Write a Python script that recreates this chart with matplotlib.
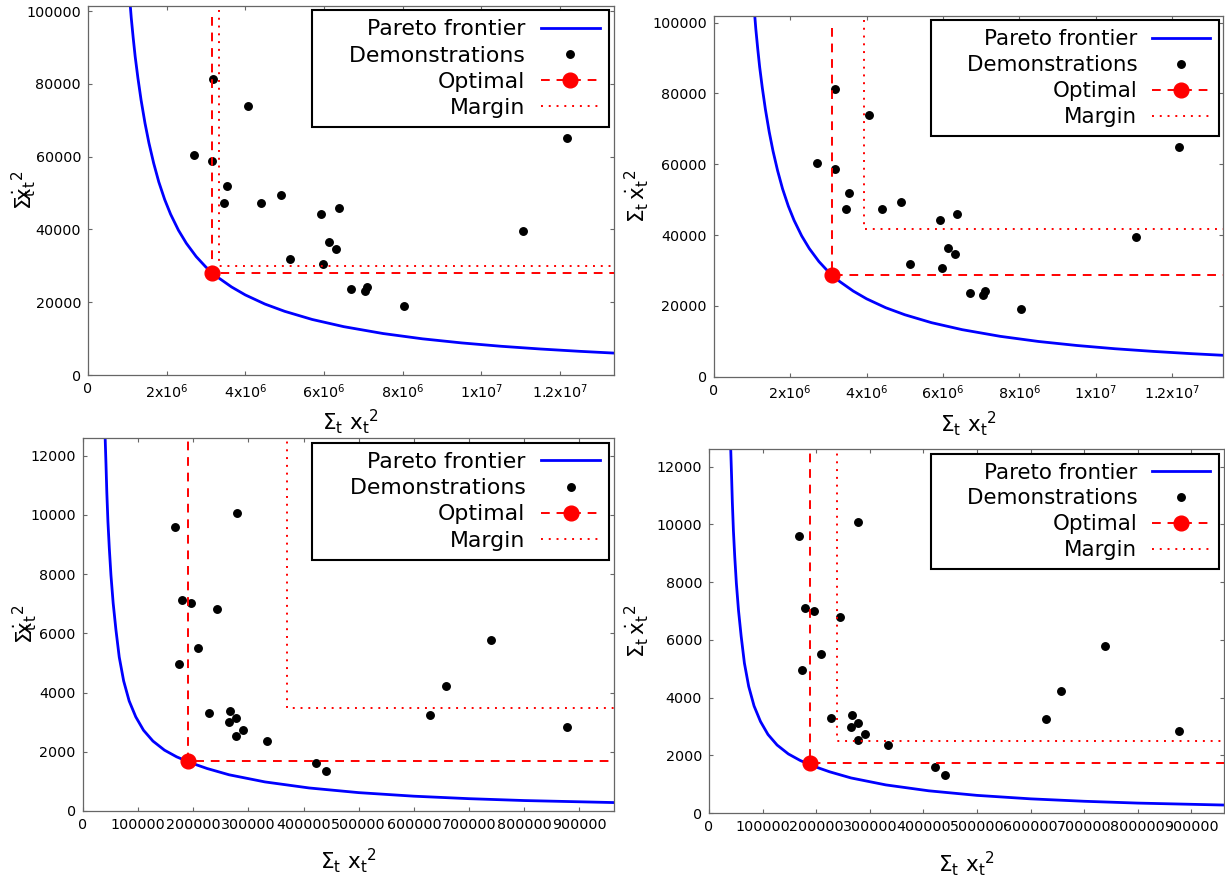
import matplotlib
matplotlib.use('Agg')
import matplotlib.pyplot as plt
from matplotlib.lines import Line2D

plt.rcParams['font.family'] = ['DejaVu Sans']
plt.rcParams['mathtext.fontset'] = 'dejavusans'
plt.rcParams['mathtext.default'] = 'regular'

# demonstrations, top row (sum x^2, sum xdot^2)
demo_top_x = [3.185e6, 4.066e6, 2.694e6, 3.160e6, 3.541e6, 3.448e6, 4.396e6, 4.905e6,
              5.921e6, 6.370e6, 6.133e6, 6.311e6, 5.142e6, 5.972e6, 6.697e6, 7.040e6,
              7.088e6, 8.033e6, 11.058e6, 12.173e6]
demo_top_y = [81320, 74000, 60350, 58790, 51830, 47350, 47260, 49360,
              44140, 45970, 36450, 34530, 31780, 30590, 23630, 23170,
              24270, 19050, 39470, 65020]

# demonstrations, bottom row
demo_bot_x = [278700, 167800, 179900, 195700, 243600, 208400, 173900, 227800,
              266600, 264200, 277500, 290800, 277500, 333900, 421800, 439900,
              739000, 657300, 628700, 876500]
demo_bot_y = [10068, 9595, 7109, 7008, 6806, 5512, 4950, 3307,
              3386, 3003, 3138, 2745, 2520, 2362, 1609, 1339,
              5785, 4232, 3253, 2836]

# pareto frontier, points
front_top_x = [1.07e6, 1.10e6, 1.15e6, 1.20e6, 1.27e6, 1.35e6, 1.45e6, 1.55e6, 1.67e6,
               1.80e6, 1.95e6, 2.10e6, 2.30e6, 2.50e6, 2.75e6, 3.00e6, 3.30e6, 3.65e6,
               4.00e6, 4.50e6, 5.00e6, 5.70e6, 6.50e6, 7.50e6, 8.50e6, 9.50e6, 10.5e6,
               11.5e6, 12.5e6, 13.4e6]
front_top_y = [102240, 98180, 92610, 87500, 81570, 75560, 69170, 63740, 58200,
               53060, 48210, 44190, 39780, 36200, 32550, 29630, 26850, 24190,
               22000, 19490, 17500, 15260, 13290, 11400, 9950, 8820, 7900,
               7150, 6510, 6010]
front_bot_x = [40500, 42000, 43500, 45500, 48000, 51000, 55000, 60000, 66000,
               74000, 84000, 96000, 110000, 127000, 148000, 170000, 195000, 225000,
               265000, 330000, 410000, 500000, 600000, 700000, 800000, 962000]
front_bot_y = [12590, 11710, 10760, 9780, 8875, 7960, 7020, 6120, 5197,
               4392, 3715, 3177, 2727, 2362, 2054, 1829, 1631, 1436,
               1223, 982, 778, 620, 500, 416, 353, 285]

# optimal point and margin corner per panel
opt_x = [3.143e6, 3.09e6, 190300, 187700]
opt_y = [28115, 28810, 1676, 1735]
opt_top = [98450, 98400, 13000, 13000]
margin_x = [3.33e6, 3.944e6, 369600, 239200]
margin_y = [29855, 41710, 3476, 2496]
margin_top = [100280, 100750, 13000, 13000]

top_xticks = [0, 2e6, 4e6, 6e6, 8e6, 1e7, 1.2e7]
top_xticklabels = ['0', '2x10$^6$', '4x10$^6$', '6x10$^6$', '8x10$^6$', '1x10$^7$', '1.2x10$^7$']
top_yticks = [0, 20000, 40000, 60000, 80000, 100000]
bot_xticks = [0, 100000, 200000, 300000, 400000, 500000, 600000, 700000, 800000, 900000]
bot_xticklabels = [str(v) for v in bot_xticks]
bot_yticks = [0, 2000, 4000, 6000, 8000, 10000, 12000]

labels = ['Pareto frontier', '    Demonstrations', 'Optimal', 'Margin']
xlab = r'$\Sigma_\mathrm{t}\ \mathrm{x}_\mathrm{t}{}^2$'
ylab_tight = r'$\Sigma_\mathrm{t}\!\!\!\dot{\mathrm{x}}_\mathrm{t}{}^2$'
ylab_loose = r'$\Sigma_\mathrm{t}\,\dot{\mathrm{x}}_\mathrm{t}{}^2$'

panels = [
    dict(rect=[0.0718, 0.5748, 0.4291, 0.4189], xlim=1.336e7, ylim=101500, row='top',
         ylab=ylab_tight, ylc=(-0.122, 0.50), xlc=(0.5, -0.127), fs=15.8),
    dict(rect=[0.5827, 0.5729, 0.4160, 0.4090], xlim=1.334e7, ylim=101900, row='top',
         ylab=ylab_loose, ylc=(-0.1515, 0.50), xlc=(0.5, -0.129), fs=15.4),
    dict(rect=[0.0676, 0.0805, 0.4336, 0.4226], xlim=962500, ylim=12585, row='bot',
         ylab=ylab_tight, ylc=(-0.109, 0.50), xlc=(0.5, -0.133), fs=15.8),
    dict(rect=[0.5788, 0.0779, 0.4200, 0.4130], xlim=960000, ylim=12606, row='bot',
         ylab=ylab_loose, ylc=(-0.1417, 0.50), xlc=(0.5, -0.137), fs=15.4),
]

blue = '#0000ff'
red = '#ff0000'
dash = (0, (4.5, 3.5))
dots = (0, (1, 3))

fig = plt.figure(figsize=(12.25, 8.82), dpi=100)

for i, p in enumerate(panels):
    ax = fig.add_axes(p['rect'])
    if p['row'] == 'top':
        fx, fy, dx, dy = front_top_x, front_top_y, demo_top_x, demo_top_y
    else:
        fx, fy, dx, dy = front_bot_x, front_bot_y, demo_bot_x, demo_bot_y
    far = p['xlim'] * 1.2

    ax.plot(fx, fy, color=blue, lw=2.0, zorder=2, solid_joinstyle='round')
    ax.plot(dx, dy, 'o', color='black', ms=5.4, ls='none', zorder=3)
    ax.plot([opt_x[i], opt_x[i], far], [opt_top[i], opt_y[i], opt_y[i]],
            color=red, lw=1.4, ls=dash, zorder=4)
    ax.plot([opt_x[i]], [opt_y[i]], 'o', color=red, ms=10.6, zorder=5)
    ax.plot([margin_x[i], margin_x[i], far], [margin_top[i], margin_y[i], margin_y[i]],
            color=red, lw=1.4, ls=dots, zorder=4)

    ax.set_xlim(0, p['xlim'])
    ax.set_ylim(0, p['ylim'])
    if p['row'] == 'top':
        ax.set_xticks(top_xticks)
        ax.set_xticklabels(top_xticklabels)
        ax.set_yticks(top_yticks)
    else:
        ax.set_xticks(bot_xticks)
        ax.set_xticklabels(bot_xticklabels)
        ax.set_yticks(bot_yticks)

    ax.tick_params(direction='in', length=3, width=0.8, color='#666666',
                   labelsize=10.3, top=True, right=True, pad=5)
    for s in ax.spines.values():
        s.set_color('#666666')
        s.set_linewidth(0.9)

    ax.set_xlabel(xlab, fontsize=15.5, va='center', ha='center')
    ax.set_ylabel(p['ylab'], fontsize=15.5, va='center', ha='center')
    ax.xaxis.set_label_coords(*p['xlc'])
    ax.yaxis.set_label_coords(*p['ylc'])

    handles = [
        Line2D([], [], color=blue, lw=2.0),
        Line2D([], [], color='black', marker='o', ms=5.4, ls='none'),
        Line2D([], [], color=red, lw=1.4, ls=dash, marker='o', ms=10.6),
        Line2D([], [], color=red, lw=1.4, ls=dots),
    ]
    leg = ax.legend(handles, labels, loc='upper right', fontsize=p['fs'],
                    markerfirst=False, numpoints=1, handlelength=2.7,
                    handletextpad=0.7, labelspacing=0.28, borderpad=0.42,
                    borderaxespad=0.21, fancybox=False, framealpha=1,
                    edgecolor='black')
    leg.get_frame().set_linewidth(1.5)
    leg.set_zorder(10)

fig.savefig('out.png', dpi=100)
